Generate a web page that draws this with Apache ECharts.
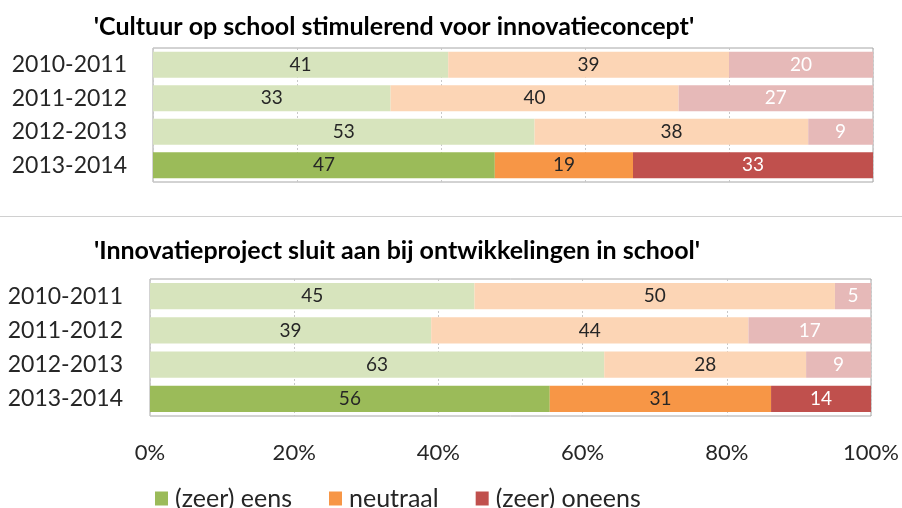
<!DOCTYPE html>
<html>
<head>
<meta charset="utf-8">
<script src="https://cdn.jsdelivr.net/npm/echarts@6/dist/echarts.min.js"></script>
<style>
  html, body { margin: 0; padding: 0; background: #fff; }
  #chart { width: 902px; height: 508px; }
</style>
</head>
<body>
<div id="chart"></div>
<script>
// School years (rows) and answer categories
const years = ['2010-2011', '2011-2012', '2012-2013', '2013-2014'];
const answers = ['(zeer) eens', 'neutraal', '(zeer) oneens'];
const tickLabels = ['0%', '20%', '40%', '60%', '80%', '100%'];
const currentYear = '2013-2014';

// 'Cultuur op school stimulerend voor innovatieconcept'
const cultuurEens = [41, 33, 53, 47];
const cultuurNeutraal = [39, 40, 38, 19];
const cultuurOneens = [20, 27, 9, 33];

// 'Innovatieproject sluit aan bij ontwikkelingen in school'
const projectEens = [45, 39, 63, 56];
const projectNeutraal = [50, 44, 28, 31];
const projectOneens = [5, 17, 9, 14];

const strongColors = ['#9BBB59', '#F79646', '#C0504D'];
const paleColors = ['#D7E4BD', '#FCD5B5', '#E6B9B8'];
const labelColors = ['#262626', '#262626', '#ffffff'];

const FONT = 'Lato';
const TEXT = '#262626';

// Build three stacked series for one panel, each row scaled to 100%
function panelSeries(groups, gridIndex) {
  const totals = years.map((_, i) => groups.reduce((s, g) => s + g[i], 0));
  return groups.map((vals, k) => ({
    name: answers[k],
    type: 'bar',
    stack: 'panel' + gridIndex,
    xAxisIndex: gridIndex,
    yAxisIndex: gridIndex,
    barCategoryGap: '23%',
    itemStyle: { color: strongColors[k] },
    label: {
      show: true,
      position: 'inside',
      fontFamily: FONT,
      fontSize: 19,
      color: labelColors[k],
      formatter: p => String(vals[p.dataIndex])
    },
    data: vals.map((v, i) => ({
      value: v / totals[i] * 100,
      itemStyle: { color: years[i] === currentYear ? strongColors[k] : paleColors[k] }
    }))
  }));
}

function xAxisFor(gridIndex, showLabels) {
  return {
    type: 'value',
    gridIndex: gridIndex,
    min: 0,
    max: 100,
    interval: 20,
    axisLine: { show: false },
    axisTick: { show: false },
    axisLabel: {
      show: showLabels,
      margin: 26,
      fontFamily: FONT,
      fontSize: 22,
      color: TEXT,
      formatter: v => tickLabels[Math.round(v / 20)]
    },
    splitLine: {
      show: true,
      lineStyle: { color: '#C8C8C8', type: [2, 2], width: 1 }
    }
  };
}

function yAxisFor(gridIndex, margin) {
  return {
    type: 'category',
    gridIndex: gridIndex,
    data: years,
    inverse: true,
    axisLine: { show: false },
    axisTick: { show: false },
    axisLabel: {
      margin: margin,
      fontFamily: FONT,
      fontSize: 23,
      color: TEXT
    }
  };
}

const chart = echarts.init(document.getElementById('chart'), null, { renderer: 'canvas' });

chart.setOption({
  animation: false,
  backgroundColor: '#ffffff',
  textStyle: { fontFamily: FONT },
  grid: [
    { left: 153, top: 48, width: 720, height: 134, show: true, borderColor: '#A6A6A6', borderWidth: 1, containLabel: false },
    { left: 150, top: 279, width: 721, height: 137, show: true, borderColor: '#A6A6A6', borderWidth: 1, containLabel: false }
  ],
  xAxis: [xAxisFor(0, false), xAxisFor(1, true)],
  yAxis: [yAxisFor(0, 26), yAxisFor(1, 27)],
  legend: {
    data: answers,
    left: 155,
    top: 486,
    padding: 0,
    icon: 'rect',
    itemWidth: 13,
    itemHeight: 14,
    itemGap: 37,
    textStyle: { fontFamily: FONT, fontSize: 25, color: TEXT, padding: [0, 0, 0, 2] }
  },
  graphic: [
    {
      type: 'text',
      x: 394, y: 27,
      style: {
        text: "'Cultuur op school stimulerend voor innovatieconcept'",
        fontFamily: FONT, fontWeight: 'bold', fontSize: 25, fill: '#000',
        textAlign: 'center', textVerticalAlign: 'middle'
      }
    },
    {
      type: 'text',
      x: 397, y: 251,
      style: {
        text: "'Innovatieproject sluit aan bij ontwikkelingen in school'",
        fontFamily: FONT, fontWeight: 'bold', fontSize: 25, fill: '#000',
        textAlign: 'center', textVerticalAlign: 'middle'
      }
    },
    {
      type: 'line',
      shape: { x1: 0, y1: 216.5, x2: 902, y2: 216.5 },
      style: { stroke: '#D0D0D0', lineWidth: 1 }
    }
  ],
  series: [
    ...panelSeries([cultuurEens, cultuurNeutraal, cultuurOneens], 0),
    ...panelSeries([projectEens, projectNeutraal, projectOneens], 1)
  ]
});
</script>
</body>
</html>
